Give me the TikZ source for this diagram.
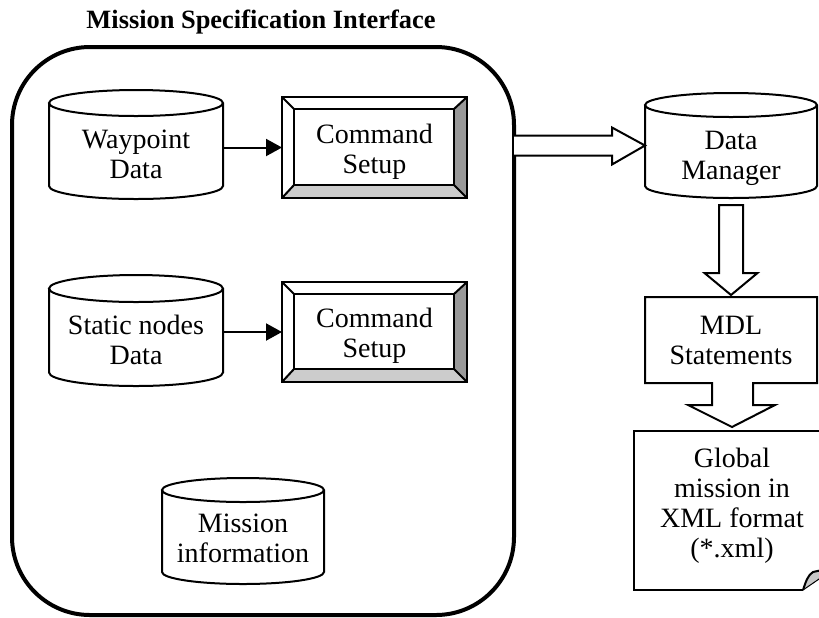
\documentclass[tikz,border=0pt]{standalone}
\usepackage{fontspec}
\setmainfont{Liberation Serif}
\usetikzlibrary{arrows.meta,calc}

\definecolor{bevelright}{HTML}{999999}
\definecolor{bevelbottom}{HTML}{CCCCCC}
\definecolor{curlgray}{HTML}{C8C8C8}

\tikzset{
  body/.style={font=\fontsize{14}{15}\selectfont, align=center, inner sep=0pt, outer sep=0pt},
  titletext/.style={font=\fontsize{13.2}{15}\selectfont\bfseries, inner sep=0pt},
  dbline/.style={line width=1pt, fill=white},
  cmdline/.style={line width=1pt},
  outline/.style={line width=1pt},
  blk/.style={line width=1pt, fill=white, line join=miter},
  conn/.style={line width=1pt, -{Triangle[length=8pt,width=8.5pt]}},
  frame/.style={draw, line width=2pt, rounded corners=39pt, inner sep=0pt, outer sep=0pt},
  shapebox/.style={inner sep=0pt, outer sep=0pt},
}

% database cylinder: name, x1, y1, x2, y2, ellipse radius, text, text centre y
\newcommand\dbcyl[8]{%
  \pgfmathsetmacro\dbrx{(#4-#2)/2}%
  \pgfmathsetmacro\dbcx{(#2+#4)/2}%
  \pgfmathsetmacro\dbcy{(#3+#5)/2}%
  \pgfmathsetmacro\dbw{(#4-#2)*0.5}%
  \pgfmathsetmacro\dbh{(#5-#3)*0.5}%
  \draw[dbline] (#2,{-(#3)-(#6)}) -- (#2,{-(#5)+(#6)})
    arc[start angle=180,end angle=360,x radius=\dbrx,y radius=#6]
    -- (#4,{-(#3)-(#6)})
    arc[start angle=0,end angle=180,x radius=\dbrx,y radius=#6]
    arc[start angle=180,end angle=360,x radius=\dbrx,y radius=#6];
  \node[shapebox, minimum width=\dbw pt, minimum height=\dbh pt] (#1) at (\dbcx,-\dbcy) {};
  \node[body] (#1-t) at (\dbcx,-#8) {#7};
}

% bevelled button box: name, x1, y1, x2, y2, text
\newcommand\cmdbox[6]{%
  \pgfmathsetmacro\cbcx{(#2+#4)/2}%
  \pgfmathsetmacro\cbcy{(#3+#5)/2}%
  \pgfmathsetmacro\cbw{(#4-#2)*0.5}%
  \pgfmathsetmacro\cbh{(#5-#3)*0.5}%
  \fill[white] (#2,-#3) rectangle (#4,-#5);
  \fill[bevelbottom] (#2,-#5) -- ({#2+12},{-(#5)+13}) -- ({#4-13},{-(#5)+13}) -- (#4,-#5) -- cycle;
  \fill[bevelright] (#4,-#3) -- ({#4-13},{-(#3)-12}) -- ({#4-13},{-(#5)+13}) -- (#4,-#5) -- cycle;
  \draw[cmdline] (#2,-#3) rectangle (#4,-#5);
  \draw[cmdline] ({#2+12},{-(#3)-12}) rectangle ({#4-13},{-(#5)+13});
  \draw[cmdline] (#2,-#3) -- ({#2+12},{-(#3)-12})
                 (#4,-#3) -- ({#4-13},{-(#3)-12})
                 (#2,-#5) -- ({#2+12},{-(#5)+13})
                 (#4,-#5) -- ({#4-13},{-(#5)+13});
  \node[shapebox, minimum width=\cbw pt, minimum height=\cbh pt] (#1) at (\cbcx,-\cbcy) {};
  \node[body] (#1-t) at (\cbcx,{-\cbcy-4}) {#6};
}

\begin{document}
\begin{tikzpicture}[x=0.5pt,y=0.5pt]
\useasboundingbox (0,0) rectangle (819,-617);
\fill[white] (0,0) rectangle (819,-617);

% title and outer frame
\node[titletext] (ttl) at (261,-22) {Mission Specification Interface};
\node[frame, minimum width=251pt, minimum height=284pt] (msi) at (263,-331) {};

% data stores
\dbcyl{wp}{49}{90}{223}{199}{13}{Waypoint\\Data}{154}
\dbcyl{sn}{49}{275}{223}{386}{13.5}{Static nodes\\Data}{340}
\dbcyl{mi}{162}{478}{324}{584}{12}{Mission\\information}{538}
\dbcyl{dm}{645}{93}{817}{198}{12}{Data\\Manager}{158}

% command setup buttons
\cmdbox{cs1}{282}{97}{467}{198}{Command\\Setup}
\cmdbox{cs2}{282}{282}{467}{382}{Command\\Setup}

\draw[conn] (wp.east |- cs1.west) -- (cs1.west);
\draw[conn] (sn.east |- cs2.west) -- (cs2.west);

% block arrow: interface -> data manager
\draw[blk] let \p1=(msi.east |- dm.west), \p2=(dm.west) in
  (\x1,\y2+5pt) -- (\x2-16.5pt,\y2+5pt) -- (\x2-16.5pt,\y2+9pt) -- (\p2)
  -- (\x2-16.5pt,\y2-9.5pt) -- (\x2-16.5pt,\y2-5pt) -- (\x1,\y2-5pt);

% MDL statements callout box
\node[shapebox, body, minimum width=86pt, minimum height=43pt] (mdl) at (731,-340) {MDL\\Statements};
\draw[outline] let \p1=(mdl.south) in
  (mdl.north west) -- (mdl.north east) -- (mdl.south east)
  -- (\x1+11pt,\y1) -- (\x1+11pt,\y1-11pt) -- (\x1+22pt,\y1-11pt)
  -- (\x1+0.5pt,\y1-22pt) -- (\x1-21.5pt,\y1-11pt) -- (\x1-9.5pt,\y1-11pt)
  -- (\x1-9.5pt,\y1) -- (mdl.south west) -- cycle;

% block arrow: data manager -> MDL statements
\draw[blk] let \p1=(dm.south), \p2=(mdl.north) in
  (\x2-6pt,\y1-3.5pt) -- (\x2-6pt,\y2+12pt) -- (\x2-13.25pt,\y2+12pt) -- (\x2,\y2+1pt)
  -- (\x2+13.25pt,\y2+12pt) -- (\x2+6pt,\y2+12pt) -- (\x2+6pt,\y1-3.5pt) -- cycle;

% output document with curled corner
\draw[outline] (840,-431) -- (634,-431) -- (634,-590) -- (803,-590);
\fill[curlgray] (803,-590) .. controls (806,-581) and (808,-575) .. (813,-572) -- (822,-570) -- (822,-577) -- cycle;
\draw[outline] (803,-590) .. controls (806,-581) and (808,-575) .. (813,-572) -- (822,-570);
\draw[line width=0.5pt] (803,-590) -- (822,-577);
\node[body] (gm) at (732,-506) {Global\\mission in\\XML format\\(*.xml)};
\end{tikzpicture}
\end{document}
